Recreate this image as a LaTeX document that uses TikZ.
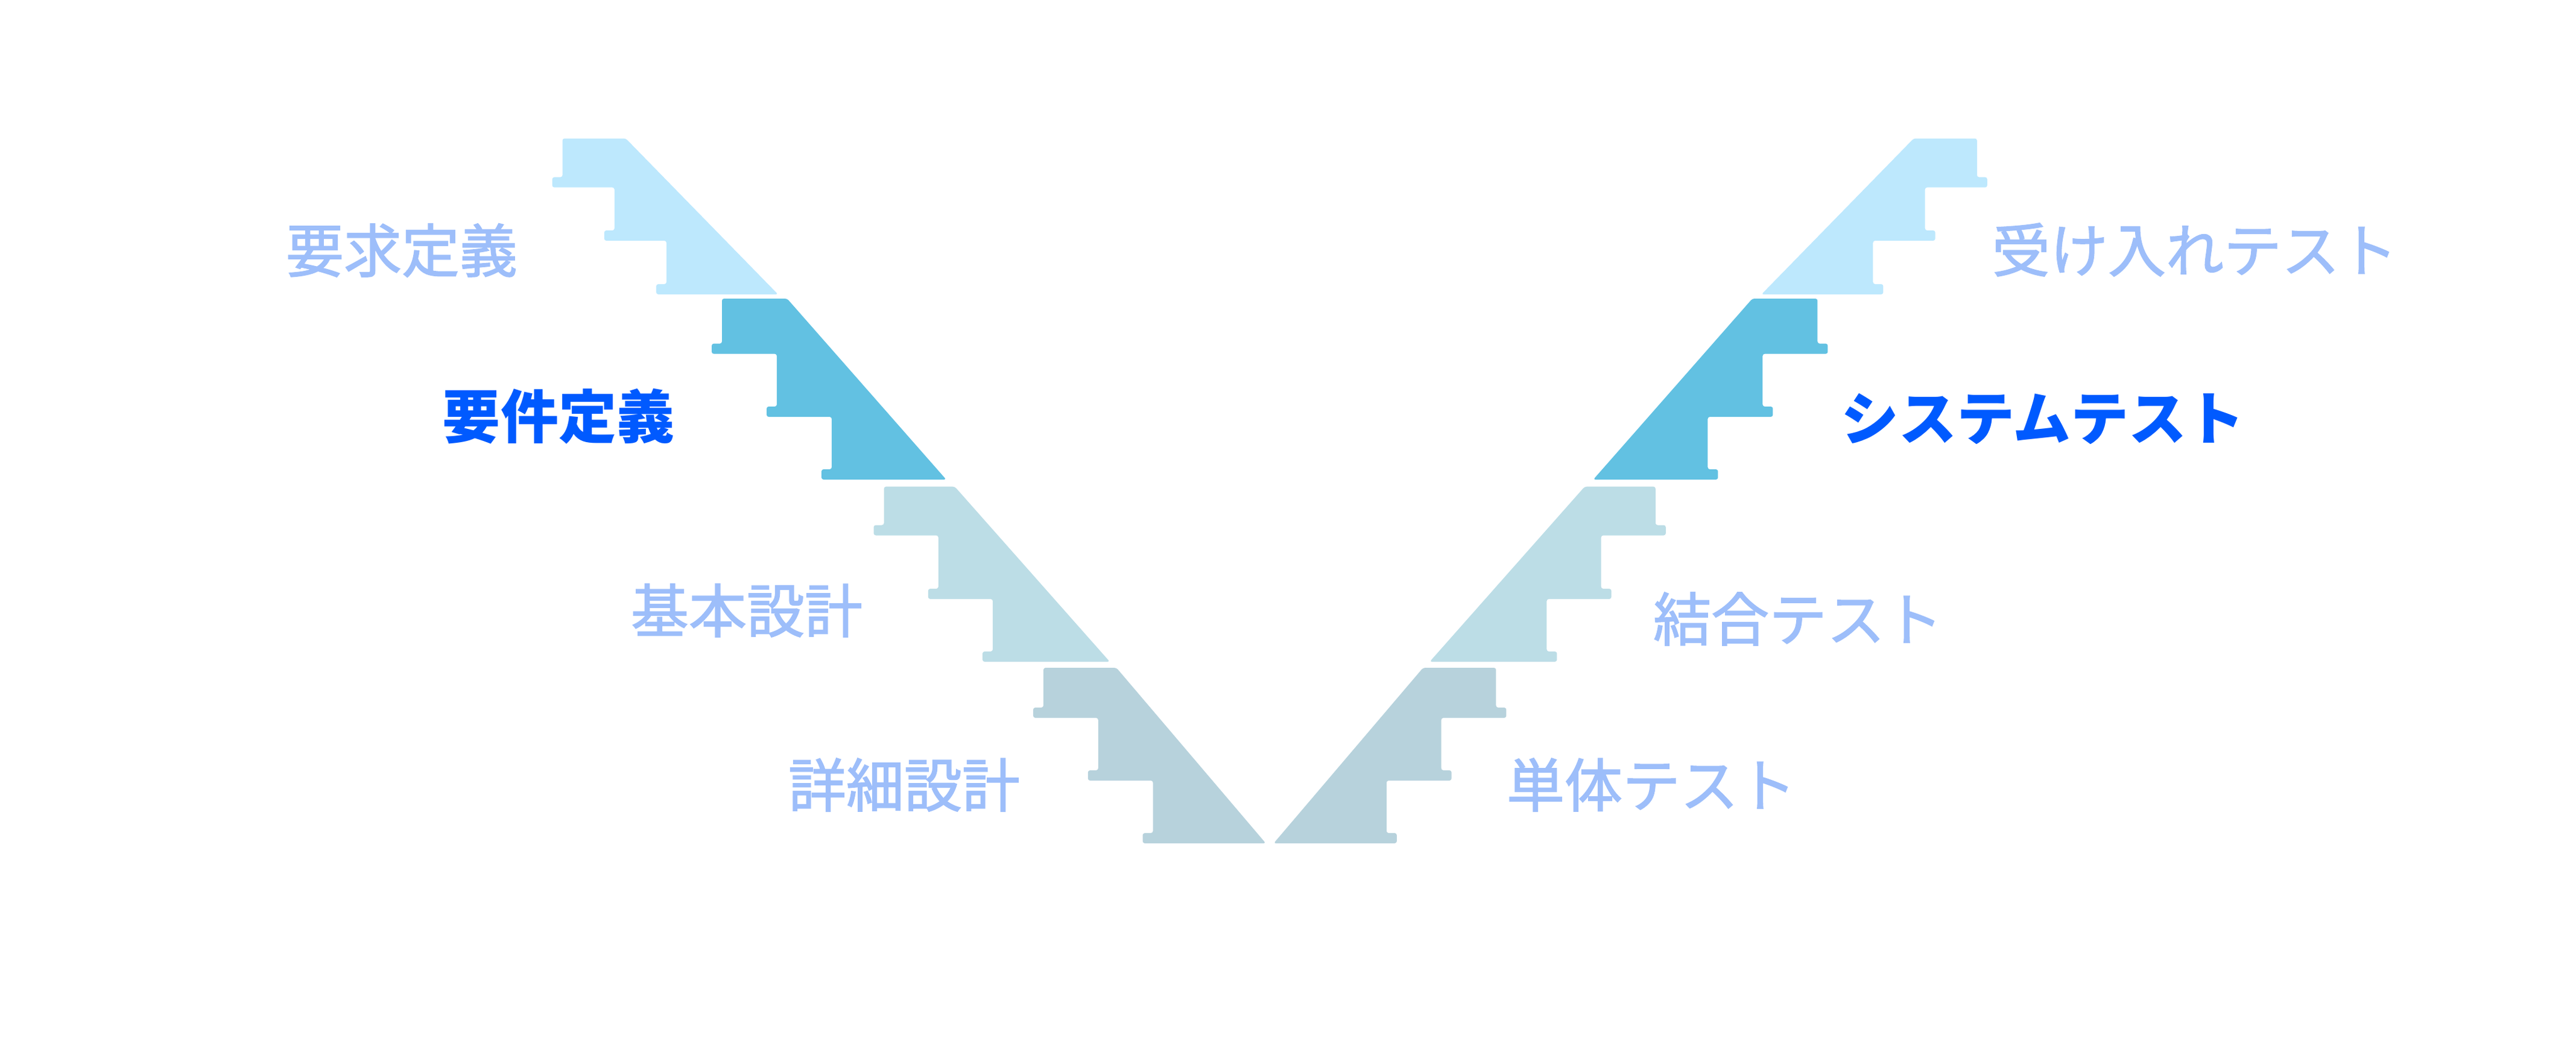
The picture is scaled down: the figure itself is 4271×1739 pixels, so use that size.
\documentclass[tikz,border=0pt]{standalone}
\usepackage{fontspec}
\setmainfont{Noto Sans CJK JP}
\newfontfamily\stagefont[FakeBold=1.6]{Noto Sans CJK JP}

\definecolor{stepA}{HTML}{BDE8FD}
\definecolor{stepB}{HTML}{62C1E2}
\definecolor{stepC}{HTML}{BCDDE6}
\definecolor{stepD}{HTML}{B7D2DC}
\definecolor{stagegray}{HTML}{9DBEFA}
\definecolor{stageblue}{HTML}{005AFF}

% one flight of four stair blocks, top to bottom
\newcommand{\stairset}{%
  \foreach \col/\xl/\yt/\ya/\yb/\ybot/\w/\xtr/\xbr in {
      stepA/932.6/229.5/310.7/399/488/86.2/1037.5/1290,
      stepB/1197/495/586.6/691/795/91/1305/1568.8,
      stepC/1465.6/806.7/887.5/993/1097/90.2/1583/1840,
      stepD/1730/1107/1190/1294/1398/90.8/1851/2098.7}
    \fill[\col, rounded corners=1pt]
      (\xl,\yt) -- (\xtr,\yt) -- (\xbr,\ybot)
      -- ({\xl+2*\w-17},\ybot) -- ({\xl+2*\w-17},{\ybot-17}) -- ({\xl+2*\w},{\ybot-17})
      -- ({\xl+2*\w},\yb) -- ({\xl+\w-17},\yb) -- ({\xl+\w-17},{\yb-17}) -- ({\xl+\w},{\yb-17})
      -- ({\xl+\w},\ya) -- ({\xl-17},\ya) -- ({\xl-17},{\ya-17}) -- (\xl,{\ya-17}) -- cycle;
}

\begin{document}
\begin{tikzpicture}[x=0.01cm, y=-0.01cm,
    stagetext/.style = {inner sep=0pt},
    phase/.style = {stagetext, text=stagegray, font=\fontsize{27.3pt}{32pt}\stagefont},
    current/.style = {stagetext, text=stageblue, font=\fontsize{27.3pt}{32pt}\selectfont\bfseries}]

    \path[use as bounding box] (0,0) rectangle (4271,1739);

    % left flight and its mirror
    \stairset
    \begin{scope}[xshift=42.08cm, xscale=-1]
        \stairset
    \end{scope}

    \node[phase] (req) at (666,415) {要求定義};
    \node[current] (spec) at (926,690) {要件定義};
    \node[phase] (basic) at (1238,1012) {基本設計};
    \node[phase] (detail) at (1499,1301) {詳細設計};

    \node[phase] (unit) at (2738,1301) {単体テスト};
    \node[phase] (integ) at (2981,1026) {結合テスト};
    \node[current] (system) at (3387,694) {システムテスト};
    \node[phase] (accept) at (3639,414) {受け入れテスト};
\end{tikzpicture}
\end{document}
